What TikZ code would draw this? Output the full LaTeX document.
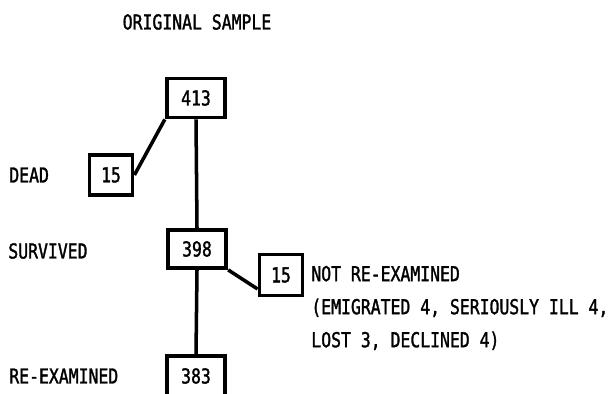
\documentclass[tikz,border=0pt]{standalone}
\usepackage{fontspec}
\setmonofont[FakeStretch=0.8,FakeBold=1.5]{DejaVu Sans Mono}
\usetikzlibrary{calc}
\tikzset{
    every node/.append style={font=\ttfamily\fontsize{11.7}{18.8}\selectfont},
    count/.style={rectangle,draw=black,line width=2.2pt,inner sep=0pt,
        minimum width=1.17cm,minimum height=0.78cm},
    small/.style={count,minimum width=0.86cm,minimum height=0.79cm},
    lbl/.style={inner sep=0pt,anchor=west},
    link/.style={line width=2pt}
}
\begin{document}
\begin{tikzpicture}[x=0.02cm,y=-0.02cm]
    \useasboundingbox (0,0) rectangle (614,394);
    % counts
    \node[count]                        (orig) at (196, 98) {413};
    \node[small]                        (dead) at (111,175) {15};
    \node[count,minimum height=0.76cm]  (surv) at (197,249) {398};
    \node[small,minimum height=0.82cm]  (lost) at (281,275) {15};
    \node[count,minimum height=0.8cm]   (reex) at (196,376) {383};
    % texts
    \node[inner sep=0pt] (title) at (197,22) {ORIGINAL SAMPLE};
    \node[lbl] (tdead) at (9,175)  {DEAD};
    \node[lbl] (tsurv) at (8,251)  {SURVIVED};
    \node[lbl] (treex) at (9,376)  {RE-EXAMINED};
    \node[lbl,align=left] (why) at (311,308)
        {NOT RE-EXAMINED\\(EMIGRATED 4, SERIOUSLY ILL 4,\\LOST 3, DECLINED 4)};

    \draw[link] (orig.south west) -- (dead.east);
    \draw[link] (orig.south) -- (surv.north);
    \draw[link] (surv.south east) -- ($(lost.west)+(0,14)$);
    \draw[link] (surv.south) -- (reex.north);
\end{tikzpicture}
\end{document}
